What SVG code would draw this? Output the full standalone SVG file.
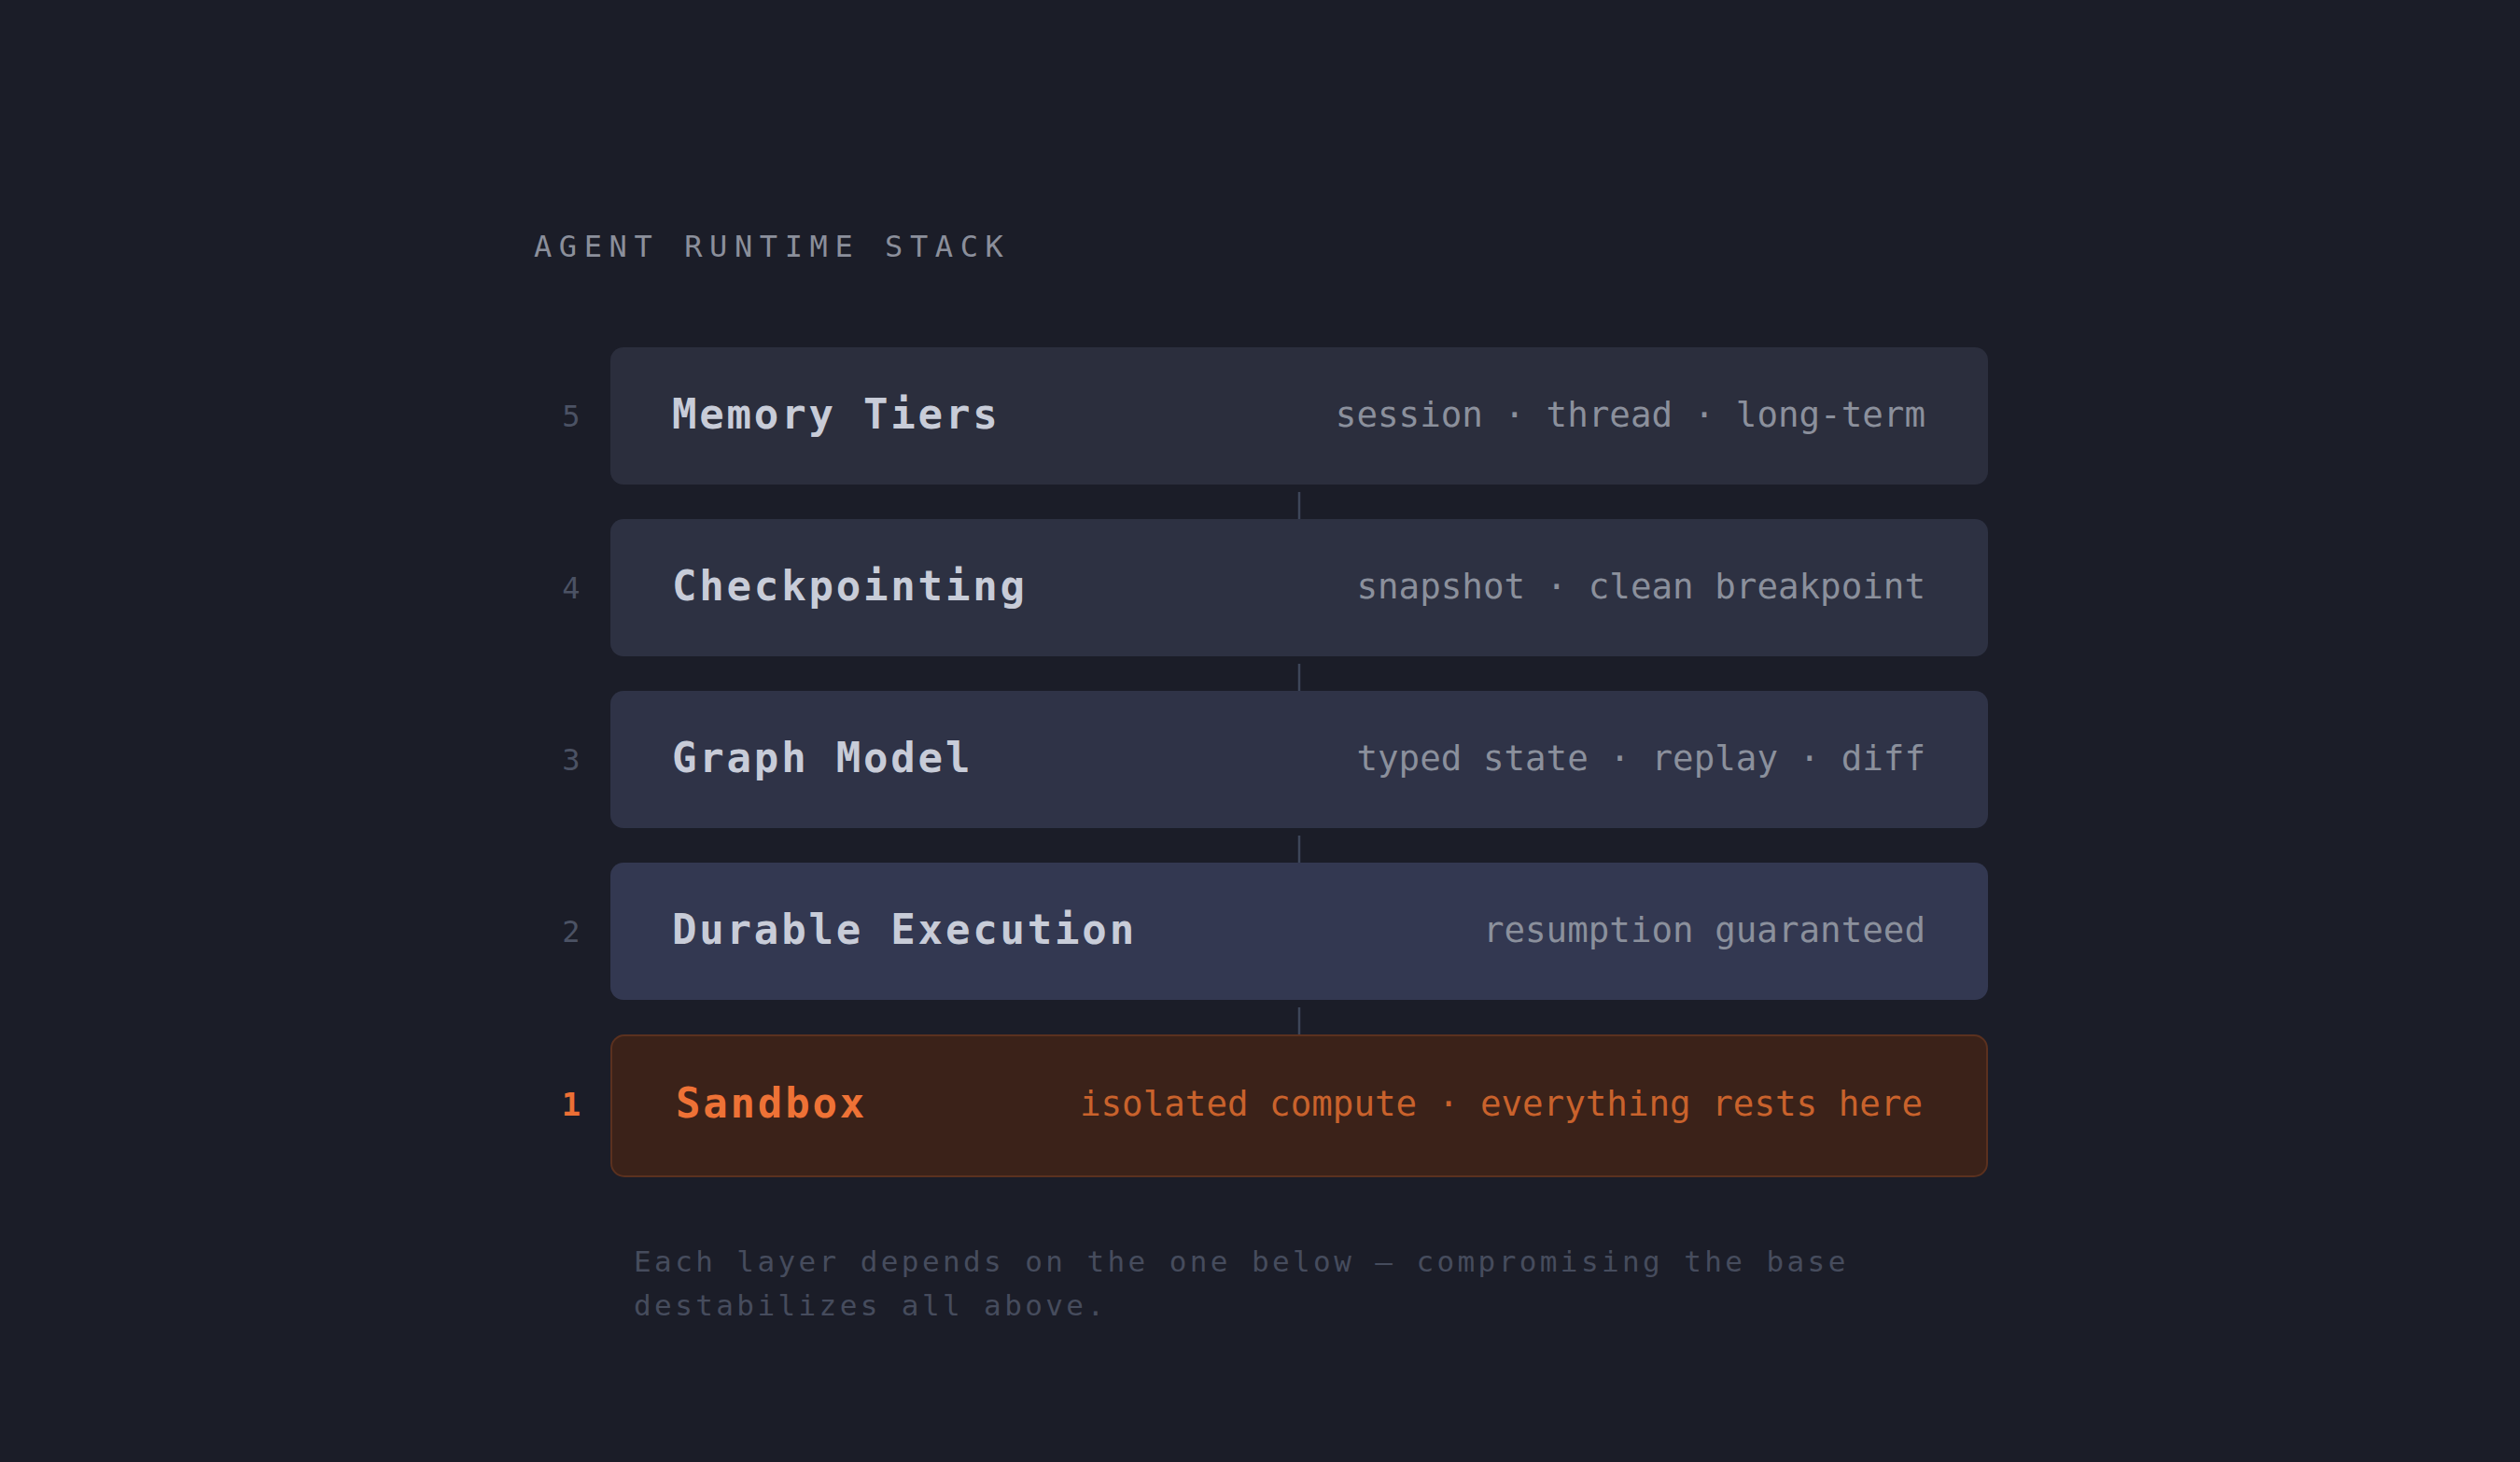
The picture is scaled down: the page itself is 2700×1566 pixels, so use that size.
<svg xmlns="http://www.w3.org/2000/svg" width="2700" height="1566" viewBox="0 0 2700 1566">
<style>
.bg{fill:#1b1d28}
.heading{font-family:"DejaVu Sans Mono","Liberation Mono",monospace;font-size:32px;letter-spacing:7.6px;fill:#8b8f9b}
.num{font-family:"DejaVu Sans Mono","Liberation Mono",monospace;font-size:32px;fill:#4b5264;text-anchor:middle}
.title{font-family:"DejaVu Sans Mono","Liberation Mono",monospace;font-size:44px;font-weight:bold;letter-spacing:2.8px;fill:#c8ccd8}
.sub{font-family:"DejaVu Sans Mono","Liberation Mono",monospace;font-size:37.5px;fill:#8b909c;text-anchor:end}
.foot{font-family:"DejaVu Sans Mono","Liberation Mono",monospace;font-size:31px;letter-spacing:3.4px;fill:#464c5d}
.conn{stroke:#3d4659;stroke-width:2.5}
.sb-num{font-family:"DejaVu Sans Mono","Liberation Mono",monospace;font-size:34px;font-weight:bold;fill:#ec6f35;text-anchor:middle}
.sb-title{font-family:"DejaVu Sans Mono","Liberation Mono",monospace;font-size:44px;font-weight:bold;letter-spacing:2.8px;fill:#ee7236}
.sb-sub{font-family:"DejaVu Sans Mono","Liberation Mono",monospace;font-size:37.5px;fill:#c9622c;text-anchor:end}
</style>
<rect class="bg" x="0" y="0" width="2700" height="1566"/>
<text class="heading" x="572" y="275">AGENT RUNTIME STACK</text>

<g id="connectors">
<line class="conn" x1="1392" y1="527" x2="1392" y2="556"/>
<line class="conn" x1="1392" y1="711" x2="1392" y2="740"/>
<line class="conn" x1="1392" y1="895" x2="1392" y2="924"/>
<line class="conn" x1="1392" y1="1079" x2="1392" y2="1108"/>
</g>

<g id="layer5">
<text class="num" x="612" y="457">5</text>
<rect x="654" y="372" width="1476" height="147" rx="14" fill="#2b2e3d"/>
<text class="title" x="720" y="459">Memory Tiers</text>
<text class="sub" x="2063" y="457">session · thread · long-term</text>
</g>

<g id="layer4">
<text class="num" x="612" y="641">4</text>
<rect x="654" y="556" width="1476" height="147" rx="14" fill="#2d3142"/>
<text class="title" x="720" y="643">Checkpointing</text>
<text class="sub" x="2063" y="641">snapshot · clean breakpoint</text>
</g>

<g id="layer3">
<text class="num" x="612" y="825">3</text>
<rect x="654" y="740" width="1476" height="147" rx="14" fill="#2f3347"/>
<text class="title" x="720" y="827">Graph Model</text>
<text class="sub" x="2063" y="825">typed state · replay · diff</text>
</g>

<g id="layer2">
<text class="num" x="612" y="1009">2</text>
<rect x="654" y="924" width="1476" height="147" rx="14" fill="#333851"/>
<text class="title" x="720" y="1011">Durable Execution</text>
<text class="sub" x="2063" y="1009">resumption guaranteed</text>
</g>

<g id="layer1">
<text class="sb-num" x="612" y="1195">1</text>
<rect x="655" y="1109" width="1474" height="151" rx="14" fill="#3b2219" stroke="#5b311f" stroke-width="2"/>
<text class="sb-title" x="724" y="1197">Sandbox</text>
<text class="sb-sub" x="2060" y="1195">isolated compute · everything rests here</text>
</g>

<g id="footer">
<text class="foot" x="679" y="1362">Each layer depends on the one below — compromising the base</text>
<text class="foot" x="679" y="1409">destabilizes all above.</text>
</g>
</svg>
